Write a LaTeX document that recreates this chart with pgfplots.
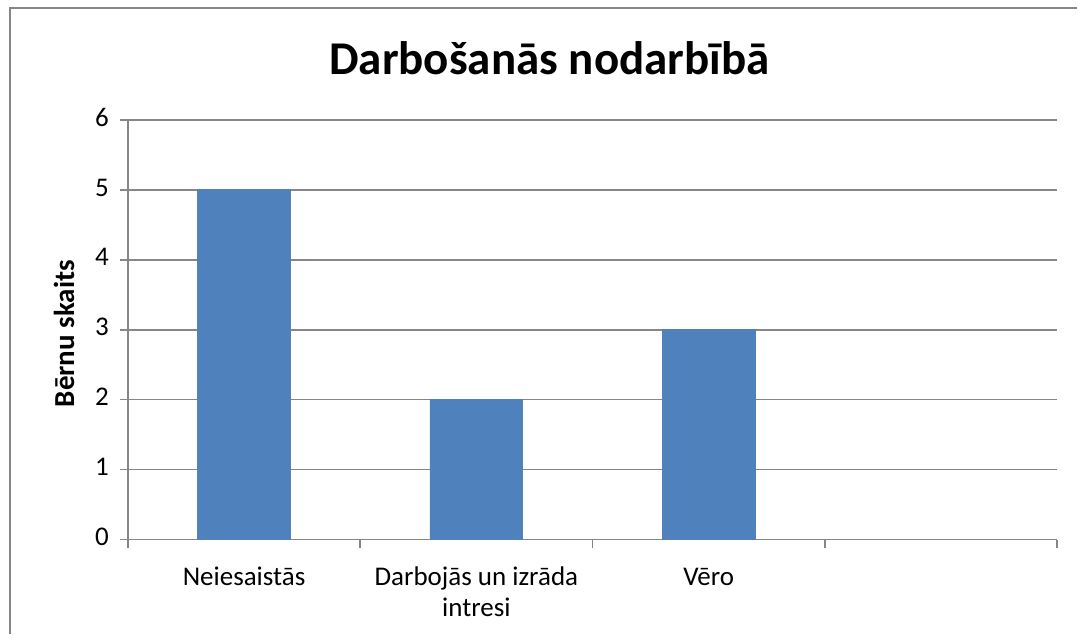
\documentclass[border=0pt]{standalone}
\usepackage{fontspec}
\setmainfont{Carlito}
\usepackage{pgfplots}
\pgfplotsset{compat=1.18}
\definecolor{barblue}{HTML}{4F81BD}
\definecolor{axgray}{HTML}{868686}

\begin{document}
\begin{tikzpicture}[x=0.5pt,y=0.5pt]
% picture area, in pixels of the reference (y upwards)
\path (0,0) rectangle (1078,634);
\draw[axgray,line width=0.8pt] (10,0) -- (10,626) -- (1078,626);
\node[font=\fontsize{23.5}{28}\selectfont\bfseries] at (550,576) {Darbošanās nodarbībā};
\node[font=\fontsize{14.5}{17}\selectfont\bfseries,rotate=90] at (64,300) {Bērnu skaits};
\begin{axis}[at={(64pt,47pt)},anchor=south west,
  scale only axis,width=465pt,height=210pt,
  xmin=0,xmax=4,ymin=0,ymax=6,
  axis x line*=bottom,axis y line*=left,
  axis line style={axgray,line width=0.8pt,-},
  ytick={0,...,6},xtick={0,...,4},xticklabels={},
  extra x ticks={0.5,1.5,2.5},
  extra x tick labels={Neiesaistās,Darbojās un izrāda\\intresi,Vēro},
  typeset ticklabels with strut,
  extra x tick style={major tick length=0pt,
    xticklabel style={align=center,font=\fontsize{13.5}{15.5}\selectfont,yshift=-8.5pt}},
  tick align=outside,major tick length=4pt,
  tick style={axgray,line width=0.8pt},
  ymajorgrids,grid style={axgray,line width=0.8pt},
  yticklabel style={font=\fontsize{13.5}{15.5}\selectfont,xshift=-2pt},
  /pgf/number format/assume math mode=true,
  ybar,bar width=46.5pt,
  ]
\addplot[fill=barblue,draw=barblue] coordinates {(0.5,5) (1.5,2) (2.5,3)};
\end{axis}
\end{tikzpicture}
\end{document}
